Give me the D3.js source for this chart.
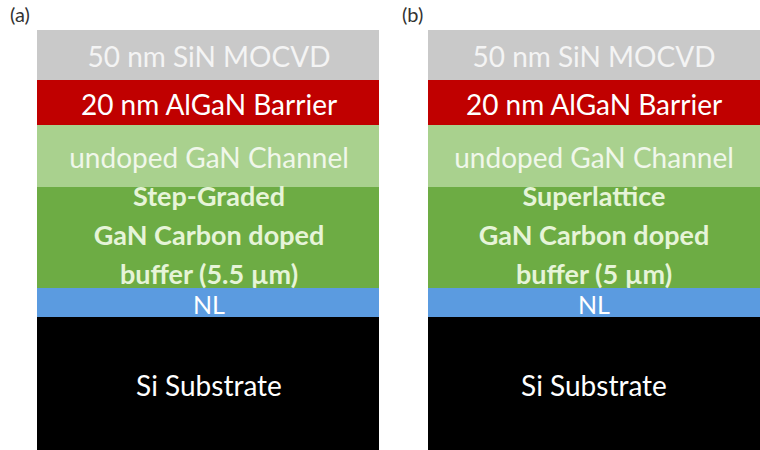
<!DOCTYPE html>
<html><head><meta charset="utf-8">
<script src="https://cdn.jsdelivr.net/npm/d3@7"></script>
<style>body{margin:0;background:#fff}svg{display:block}</style>
</head><body>
<script>
// Layer stack data (thickness in drawing units, top to bottom)
const layerNames = ["SiN", "AlGaN", "uGaN", "Buffer", "NL", "Si"];
const layerThickness = [50, 45, 62, 101, 29, 133];
const layerColors = ["#c9c9c9", "#c00000", "#a9d18e", "#6dac44", "#5b9be0", "#000000"];
const panels = ["(a)", "(b)"];
const panelLabels = [
  ["50 nm SiN MOCVD", "20 nm AlGaN Barrier", "undoped GaN Channel", ["Step-Graded", "GaN Carbon doped", "buffer (5.5 µm)"], "NL", "Si Substrate"],
  ["50 nm SiN MOCVD", "20 nm AlGaN Barrier", "undoped GaN Channel", ["Superlattice", "GaN Carbon doped", "buffer (5 µm)"], "NL", "Si Substrate"]
];
const textColors = ["#f4f4f4", "#ffffff", "#f0f7ea", "#e6f4d8", "#ffffff", "#ffffff"];

const W = 760, H = 450;
const svg = d3.select("body").append("svg").attr("width", W).attr("height", H);

const cum = [0];
layerThickness.forEach(t => cum.push(cum[cum.length - 1] + t));
const y = d3.scaleLinear().domain([0, cum[cum.length - 1]]).range([30, 450]);
const panelLeft = d3.scaleOrdinal().domain(panels).range([37, 428]);
const panelWidth = d3.scaleOrdinal().domain(panels).range([342, 332]);

const font = "Lato, 'Open Sans', sans-serif";

panels.forEach((p, pi) => {
  const g = svg.append("g");
  const left = panelLeft(p), w = panelWidth(p);
  layerNames.forEach((n, i) => {
    g.append("rect").attr("x", left).attr("y", y(cum[i])).attr("width", w)
      .attr("height", y(cum[i + 1]) - y(cum[i])).attr("fill", layerColors[i]);
  });
  const cx = left + (pi === 0 ? 172 : 166);
  layerNames.forEach((n, i) => {
    const lab = panelLabels[pi][i];
    const mid = (y(cum[i]) + y(cum[i + 1])) / 2;
    if (Array.isArray(lab)) {
      const gap = 39;
      lab.forEach((l, k) => {
        g.append("text").attr("x", cx).attr("y", mid + (k - 1) * gap - 3)
          .attr("text-anchor", "middle").attr("dominant-baseline", "central")
          .attr("font-family", font).attr("font-weight", "bold").attr("font-size", 27)
          .attr("fill", textColors[i]).text(l);
      });
    } else {
      g.append("text").attr("x", cx).attr("y", i === 4 ? mid + 1 : mid + 1)
        .attr("text-anchor", "middle").attr("dominant-baseline", "central")
        .attr("font-family", font).attr("font-size", i === 4 ? 25 : 28)
        .attr("fill", textColors[i]).text(lab);
    }
  });
  svg.append("text").attr("x", pi === 0 ? 10 : 402).attr("y", 22)
    .attr("font-family", font).attr("font-size", 20).attr("fill", "#333").text(p);
});
</script>
</body></html>
